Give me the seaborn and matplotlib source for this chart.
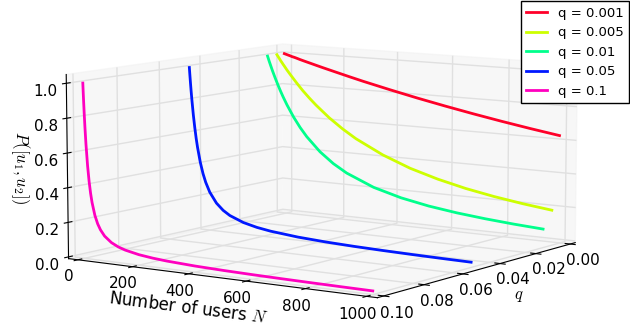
import numpy as np
import matplotlib
matplotlib.use("Agg")
import matplotlib.pyplot as plt
import seaborn as sns

# ---- data ----
N_users = [1, 2, 3, 5, 7, 10, 15, 20, 25, 30, 40, 50, 60, 75, 100, 125, 150, 200, 250, 300,
           400, 500, 600, 700, 800, 900, 1000]
q_values = [0.001, 0.005, 0.01, 0.05, 0.1]
P_q0001 = [1.0, 0.9995, 0.999, 0.998, 0.997, 0.9955, 0.993, 0.9905, 0.988, 0.985, 0.981, 0.976, 0.9707,
           0.9635, 0.952, 0.9404, 0.929, 0.907, 0.8852, 0.864, 0.8245, 0.787, 0.752, 0.719, 0.688, 0.659, 0.632]
P_q0005 = [1.0, 0.9975, 0.995, 0.990, 0.985, 0.978, 0.965, 0.954, 0.942, 0.931, 0.908, 0.887, 0.8665,
           0.836, 0.788, 0.745, 0.705, 0.633, 0.5715, 0.518, 0.433, 0.367, 0.317, 0.277, 0.2455, 0.2198, 0.1987]
P_q001 = [1.0, 0.995, 0.990, 0.980, 0.970, 0.956, 0.933, 0.910, 0.889, 0.868, 0.8276, 0.790, 0.7547,
          0.706, 0.634, 0.5722, 0.519, 0.433, 0.3676, 0.317, 0.2455, 0.1987, 0.166, 0.1426, 0.125, 0.111, 0.100]
P_q005 = [1.0, 0.975, 0.951, 0.905, 0.862, 0.803, 0.7156, 0.642, 0.578, 0.524, 0.4357, 0.369, 0.318,
          0.261, 0.199, 0.1597, 0.133, 0.100, 0.080, 0.0667, 0.050, 0.040, 0.0333, 0.0286, 0.025, 0.0222, 0.020]
P_q01 = [1.0, 0.95, 0.903, 0.819, 0.745, 0.651, 0.529, 0.439, 0.371, 0.319, 0.246, 0.199, 0.1664,
         0.133, 0.100, 0.080, 0.0667, 0.050, 0.040, 0.0333, 0.025, 0.020, 0.0167, 0.0143, 0.0125, 0.0111, 0.010]
series = [P_q0001, P_q0005, P_q001, P_q005, P_q01]
labels = ["q = 0.001", "q = 0.005", "q = 0.01", "q = 0.05", "q = 0.1"]
q_ticks = [0.00, 0.02, 0.04, 0.06, 0.08, 0.10]
N_ticks = [0, 200, 400, 600, 800, 1000]
P_ticks = [0.0, 0.2, 0.4, 0.6, 0.8, 1.0]

plt.rcParams["mathtext.fontset"] = "cm"
plt.rcParams["font.family"] = ["DejaVu Sans"]

colors = sns.color_palette(list(plt.get_cmap("gist_rainbow")(np.linspace(0, 1, 5))))

fig = plt.figure(figsize=(6.3, 3.33), dpi=100)
ax = fig.add_axes([-0.112, -0.303, 1.236, 1.6], projection="3d")

for q, P, c, lab in zip(q_values, series, colors, labels):
    ax.plot([q] * len(N_users), N_users, P, color=c, lw=2, label=lab)

ax.set_xlim(-0.003, 0.103)
ax.set_ylim(-35, 1035)
ax.set_zlim(-0.01, 1.05)
ax.set_xticks(q_ticks)
ax.set_xticklabels([f"{t:.2f}" for t in q_ticks])
ax.set_yticks(N_ticks)
ax.set_zticks(P_ticks)
ax.set_zticklabels([f"{t:.1f}" for t in P_ticks])
ax.tick_params(labelsize=11, pad=0)

ax.set_xlabel("$q$", fontsize=12, labelpad=2)
ax.set_ylabel("Number of users $N$", fontsize=12, labelpad=4)
ax.zaxis.set_rotate_label(False)
ax.set_zlabel("$P([u_1,u_2])$", fontsize=12, rotation=-90, labelpad=-3)

ax.view_init(elev=8, azim=34.5)
ax.set_box_aspect((1, 1, 0.5), zoom=1.0)

for axis in (ax.xaxis, ax.yaxis, ax.zaxis):
    axis.set_pane_color((0.95, 0.95, 0.95, 0.6))
    axis._axinfo["grid"]["color"] = (0.88, 0.88, 0.88, 1)
    axis._axinfo["grid"]["linewidth"] = 1.0
    axis._axinfo["tick"]["inward_factor"] = 0.2
    axis._axinfo["tick"]["outward_factor"] = 0.2

fig.legend(loc="upper right", bbox_to_anchor=(1.0, 1.0), fancybox=False,
           edgecolor="black", fontsize=9.5, borderaxespad=0.1, handlelength=1.6,
           labelspacing=0.5, framealpha=1)

fig.savefig("out.png", dpi=100)
